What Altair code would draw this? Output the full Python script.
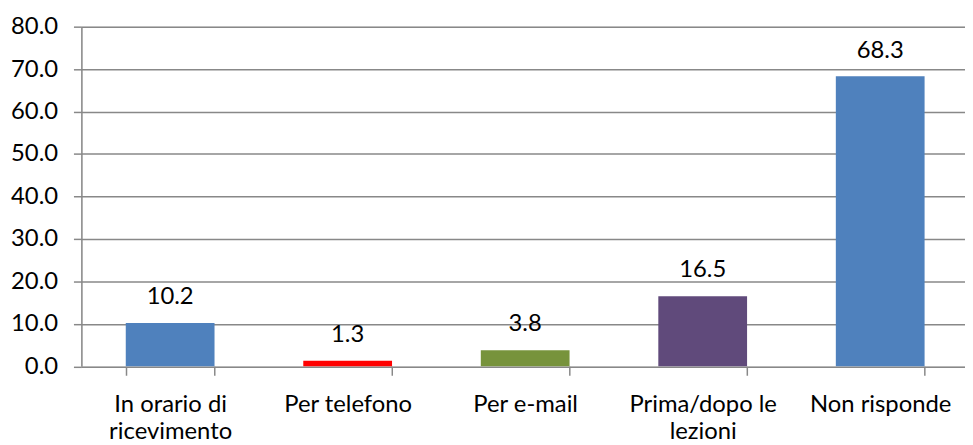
import altair as alt
import pandas as pd

categories = ["In orario di\nricevimento", "Per telefono", "Per e-mail", "Prima/dopo le\nlezioni", "Non risponde"]
values = [10.2, 1.3, 3.8, 16.5, 68.3]
colors = ["#4F81BD", "#FF0000", "#77933C", "#604A7B", "#4F81BD"]
y_ticks = [0, 10, 20, 30, 40, 50, 60, 70, 80]

df = pd.DataFrame({"cat": categories, "val": values, "col": colors})

FONT = "Lato"
GRID = "#888888"

x = alt.X("cat:N", sort=categories, title=None,
          scale=alt.Scale(range=[0, 895], paddingInner=0.5, paddingOuter=0.25),
          axis=alt.Axis(labelAngle=0, labelExpr="split(datum.label, '\\n')",
                        labelFont=FONT, labelFontSize=24, labelColor="black",
                        labelLineHeight=27, labelPadding=18, labelBaseline="top",
                        domain=False, ticks=True, tickBand="extent", tickSize=9,
                        tickColor=GRID, tickWidth=1.5, grid=False))

y = alt.Y("val:Q", title=None,
          scale=alt.Scale(domain=[0, 80], nice=False),
          axis=alt.Axis(values=y_ticks, format=".1f", labelFont=FONT, labelFontSize=24,
                        labelColor="black", labelPadding=16, tickSize=8, tickColor=GRID,
                        tickWidth=1.5, domainColor=GRID, domainWidth=1.5,
                        grid=True, gridColor=GRID, gridWidth=1.5))

bars = alt.Chart(df).mark_bar().encode(x=x, y=y, color=alt.Color("col:N", scale=None))
labels = alt.Chart(df).mark_text(font=FONT, fontSize=24, color="black", baseline="middle", dy=-26).encode(
    x=alt.X("cat:N", sort=categories), y="val:Q", text=alt.Text("val:Q", format=".1f"))

chart = (bars + labels).properties(
    width=891, height=342.5,
    autosize=alt.AutoSizeParams(type="none"),
    padding={"left": 74, "top": 17, "right": 0, "bottom": 77},
).configure_view(stroke=None).configure(background="white")

chart.save("out.html", embed_options={"renderer": "svg", "actions": False})
